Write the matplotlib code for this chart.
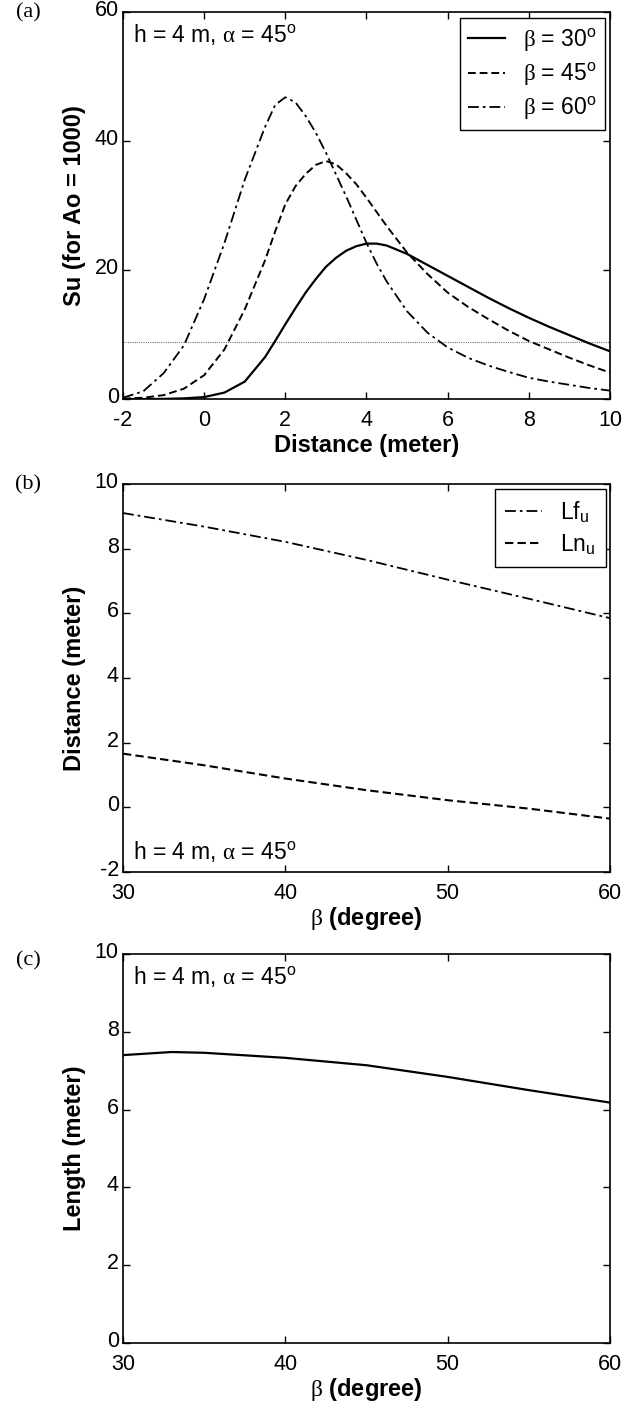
import matplotlib.pyplot as plt
import matplotlib.transforms as mtransforms

plt.rcParams['font.family'] = ['Liberation Sans', 'DejaVu Sans']
plt.rcParams['mathtext.fontset'] = 'custom'
plt.rcParams['mathtext.rm'] = 'Liberation Serif'
plt.rcParams['mathtext.sf'] = 'Liberation Sans'
plt.rcParams['axes.unicode_minus'] = False

# (a) Su vs distance
dist = [-2, -1.5, -1, -0.5, 0, 0.5, 1, 1.5, 1.75, 2, 2.25, 2.5, 2.75, 3, 3.25, 3.5,
        3.75, 4, 4.25, 4.5, 5, 5.5, 6, 6.5, 7, 7.5, 8, 8.5, 9, 9.5, 10]
su_30 = [0, 0, 0.02, 0.1, 0.3, 1.0, 2.7, 6.5, 9.0, 11.6, 14.1, 16.5, 18.6, 20.5, 21.9, 23.0,
         23.7, 24.1, 24.1, 23.8, 22.5, 20.8, 19.1, 17.4, 15.7, 14.1, 12.6, 11.2, 9.9, 8.6, 7.4]
su_45 = [0.05, 0.2, 0.6, 1.6, 3.7, 7.7, 13.9, 21.5, 26.0, 30.2, 33.0, 34.9, 36.3, 36.9, 36.4, 35.0,
         33.3, 31.2, 29.0, 26.8, 22.7, 19.4, 16.5, 14.3, 12.4, 10.6, 9.0, 7.7, 6.4, 5.2, 4.1]
su_60 = [0.2, 1.2, 4.0, 8.3, 15.5, 24.2, 34.0, 42.2, 45.6, 46.8, 46.0, 43.9, 41.3, 38.2, 34.8, 31.4,
         27.8, 24.2, 21.0, 18.2, 13.6, 10.3, 8.0, 6.4, 5.2, 4.2, 3.3, 2.7, 2.2, 1.7, 1.3]
su_threshold = 8.9

# (b) and (c) vs beta
beta = [30, 35, 40, 45, 50, 55, 60]
lf_u = [9.1, 8.68, 8.21, 7.65, 7.04, 6.45, 5.85]
ln_u = [1.66, 1.30, 0.89, 0.53, 0.22, -0.04, -0.35]
beta_c = [30, 33, 35, 40, 45, 50, 55, 60]
length = [7.40, 7.48, 7.46, 7.33, 7.14, 6.84, 6.50, 6.18]

note = r'h = 4 m, $\mathrm{\alpha}$ = 45$^{\mathsf{o}}$'
dash = (0, (4, 2))
dashdot = (0, (6, 2.2, 1.5, 2.2))
tick_fs = 15.5
label_fs = 17
note_fs = 16.5

fig = plt.figure(figsize=(6.38, 14.06), dpi=100)
ax1 = fig.add_axes([0.1928, 0.7162, 0.7633, 0.2752])
ax2 = fig.add_axes([0.1928, 0.3798, 0.7633, 0.2760])
ax3 = fig.add_axes([0.1928, 0.0448, 0.7633, 0.2767])

ax1.axhline(su_threshold, color='#777777', lw=0.8, ls=(0, (1, 1)))
ax1.plot(dist, su_30, color='black', lw=1.6, label=r'$\mathrm{\beta}$ = 30$^{\mathsf{o}}$')
ax1.plot(dist, su_45, color='black', lw=1.4, ls=dash, label=r'$\mathrm{\beta}$ = 45$^{\mathsf{o}}$')
ax1.plot(dist, su_60, color='black', lw=1.3, ls=dashdot, label=r'$\mathrm{\beta}$ = 60$^{\mathsf{o}}$')
ax1.set_xlim(-2, 10)
ax1.set_ylim(0, 60)
ax1.set_xticks(range(-2, 11, 2))
ax1.set_yticks([0, 20, 40, 60])
ax1.set_xlabel('Distance (meter)', fontweight='bold', va='center')
ax1.set_ylabel('Su (for Ao = 1000)', fontweight='bold', va='center')
ax1.text(0.02, 0.94, note, transform=ax1.transAxes, fontsize=note_fs, va='center')
ax1.legend(loc='upper right', bbox_to_anchor=(0.99, 0.984), borderaxespad=0,
           fontsize=note_fs, handlelength=1.6, labelspacing=0.3, fancybox=False,
           edgecolor='black', framealpha=1, borderpad=0.35)

ax2.plot(beta, lf_u, color='black', lw=1.3, ls=dashdot, label=r'Lf$_{\mathsf{u}}$')
ax2.plot(beta, ln_u, color='black', lw=1.5, ls=dash, label=r'Ln$_{\mathsf{u}}$')
ax2.set_xlim(30, 60)
ax2.set_ylim(-2, 10)
ax2.set_xticks([30, 40, 50, 60])
ax2.set_yticks(range(-2, 11, 2))
ax2.set_xlabel(r'$\mathrm{\beta}$ (degree)', fontweight='bold', va='center')
ax2.set_ylabel('Distance (meter)', fontweight='bold', va='center')
ax2.text(0.02, 0.05, note, transform=ax2.transAxes, fontsize=note_fs, va='center')
ax2.legend(loc='upper right', bbox_to_anchor=(0.992, 0.987), borderaxespad=0,
           fontsize=note_fs, handlelength=1.6, labelspacing=0.3, fancybox=False,
           edgecolor='black', framealpha=1, borderpad=0.45)

ax3.plot(beta_c, length, color='black', lw=1.6)
ax3.set_xlim(30, 60)
ax3.set_ylim(0, 10)
ax3.set_xticks([30, 40, 50, 60])
ax3.set_yticks(range(0, 11, 2))
ax3.set_xlabel(r'$\mathrm{\beta}$ (degree)', fontweight='bold', va='center')
ax3.set_ylabel('Length (meter)', fontweight='bold', va='center')
ax3.text(0.02, 0.94, note, transform=ax3.transAxes, fontsize=note_fs, va='center')

# MATLAB-style y tick labels sit a little above their ticks
lift = mtransforms.ScaledTranslation(0, 4 / 100, fig.dpi_scale_trans)

for ax in (ax1, ax2, ax3):
    ax.tick_params(direction='in', length=5, width=1, top=True, right=True,
                   labelsize=tick_fs)
    ax.tick_params(axis='x', pad=8)
    ax.tick_params(axis='y', pad=3)
    for s in ax.spines.values():
        s.set_linewidth(1.2)
    for t in ax.get_yticklabels():
        t.set_transform(t.get_transform() + lift)
    ax.xaxis.label.set_size(label_fs)
    ax.yaxis.label.set_size(label_fs)
    ax.xaxis.set_label_coords(0.5, -0.12)
    ax.yaxis.set_label_coords(-0.099, 0.5)

for lbl, y in (('(a)', 13), ('(b)', 485), ('(c)', 961)):
    fig.text(28 / 638, 1 - y / 1406, lbl, family='Liberation Serif', fontsize=16,
             ha='center', va='center')

fig.savefig('out.png', dpi=100)
